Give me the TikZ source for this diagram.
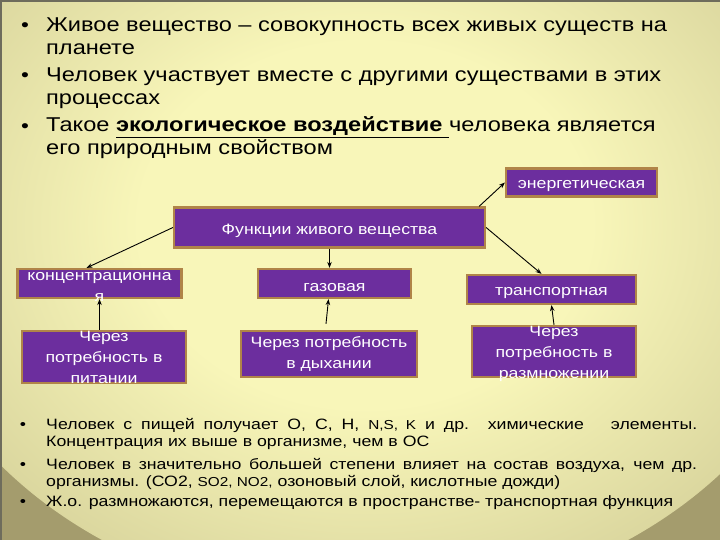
\documentclass[tikz,border=0pt]{standalone}
\usepackage{fontspec}
\setmainfont{Liberation Sans}[FakeStretch=1.18]
\usetikzlibrary{arrows.meta}

\definecolor{bgin}{HTML}{F8F6B9}
\definecolor{bgout}{HTML}{A49C6D}
\definecolor{fpurple}{HTML}{6C2E9E}
\definecolor{fborder}{HTML}{B08448}
\definecolor{slideframe}{HTML}{6E6C5C}

\pgfdeclareradialshading{slidebg}{\pgfpoint{0bp}{0bp}}{color(0bp)=(bgin); color(12bp)=(bgin); color(50bp)=(bgout)}

\tikzset{
  funcbox/.style={draw=fborder, fill=fpurple, line width=2.2pt, inner sep=0pt},
  functext/.style={text=white, align=center, inner sep=0pt, font=\fontsize{15}{21}\selectfont},
  toptext/.style={anchor=base west, align=left, inner sep=0pt, font=\fontsize{20}{23}\selectfont},
  bottext/.style={anchor=base west, align=justify, text width=651pt, inner sep=0pt, font=\fontsize{15}{17}\selectfont},
  bullet/.style={anchor=base, inner sep=0pt},
  link/.style={-{Stealth[length=6pt,width=4.5pt]}, line width=0.9pt},
}

\begin{document}
\begin{tikzpicture}[x=1pt, y=-1pt]
  \useasboundingbox (0,0) rectangle (720,540);

  % slide background
  \fill[bgout] (0,0) rectangle (720,540);
  \begin{scope}
    \clip (0,0) rectangle (720,540);
    \shade[shading=slidebg] (365,225) ellipse (470 and 380);
  \end{scope}
  \draw[slideframe, line width=2pt] (1,540) -- (1,1) -- (720,1);

  % top bullets (base = last line)
  \node[bullet, font=\fontsize{19}{23}\selectfont] (b1) at (25,31.5) {•};
  \node[toptext] (item1) at (46,54.5) {Живое вещество – совокупность всех живых существ на\\планете};
  \node[bullet, font=\fontsize{19}{23}\selectfont] (b2) at (25,82) {•};
  \node[toptext] (item2) at (46,105) {Человек участвует вместе с другими существами в этих\\процессах};
  \node[bullet, font=\fontsize{19}{23}\selectfont] (b3) at (25,133) {•};
  \node[toptext] (item3) at (46,155) {Такое \underline{\textbf{экологическое воздействие} }человека является\\его природным свойством};

  % boxes
  \node[funcbox, minimum width=151pt, minimum height=28pt] (energ) at (581.5,182.5) {};
  \node[funcbox, minimum width=311pt, minimum height=40pt] (func) at (329.5,227.5) {};
  \node[funcbox, minimum width=164pt, minimum height=29pt] (konc) at (99.5,283.5) {};
  \node[funcbox, minimum width=153pt, minimum height=29pt] (gaz) at (334.5,283.5) {};
  \node[funcbox, minimum width=169pt, minimum height=29pt] (trans) at (551.5,289.5) {};
  \node[funcbox, minimum width=164pt, minimum height=52pt] (pit) at (104,357) {};
  \node[funcbox, minimum width=176pt, minimum height=46pt] (dyh) at (329,354) {};
  \node[funcbox, minimum width=164pt, minimum height=51pt] (razm) at (554,351.5) {};

  % arrows
  \draw[link] (func.west) -- ([xshift=-13pt]konc.north);
  \draw[link] (func.south) -- (func.south |- gaz.north);
  \draw[link] ([xshift=-7pt]func.north east) -- (energ.west);
  \draw[link] (func.east) -- ([xshift=-10pt]trans.north);
  \draw[link] (konc.south |- pit.north) -- (konc.south);
  \draw[link] ([shift={(-3pt,6pt)}]dyh.north) -- ([xshift=-6pt]gaz.south);
  \draw[link] (razm.north) -- (trans.south);

  % box texts
  \node[functext, yshift=-4pt] (energT) at (energ) {энергетическая};
  \node[functext, yshift=-3pt] (funcT) at (func) {Функции живого вещества};
  \node[functext, yshift=-3pt] (koncT) at (konc) {концентрационна\\я};
  \node[functext, yshift=-4pt] (gazT) at (gaz) {газовая};
  \node[functext, yshift=-4pt] (transT) at (trans) {транспортная};
  \node[functext] (pitT) at (pit) {Через\\потребность в\\питании};
  \node[functext] (dyhT) at (dyh) {Через потребность\\в дыхании};
  \node[functext, yshift=-2pt] (razmT) at (razm) {Через\\потребность в\\размножении};

  % bottom bullets (base = first line)
  \node[bullet, font=\fontsize{15}{17}\selectfont] (b4) at (23,429) {•};
  \node[bottext] (note1) at (46,429) {Человек с пищей получает О, С, Н, {\fontsize{13}{17}\selectfont N,S, K} и др. химические\ \ \ элементы.\linebreak Концентрация их выше в организме, чем в ОС};
  \node[bullet, font=\fontsize{15}{17}\selectfont] (b5) at (23,469) {•};
  \node[bottext] (note2) at (46,469) {Человек в значительно большей степени влияет на состав воздуха, чем др.\linebreak организмы. (СО2, {\fontsize{13}{17}\selectfont SO2, NO2,} озоновый слой, кислотные дожди)};
  \node[bullet, font=\fontsize{15}{17}\selectfont] (b6) at (23,506) {•};
  \node[bottext] (note3) at (46,506) {Ж.о. размножаются, перемещаются в пространстве- транспортная функция};
\end{tikzpicture}
\end{document}
